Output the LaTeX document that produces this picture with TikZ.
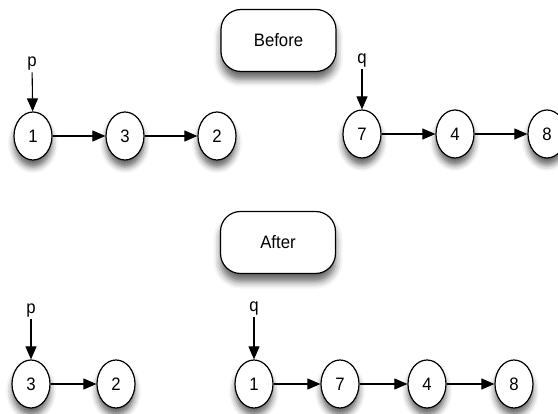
\documentclass[tikz,border=0pt]{standalone}
\usepackage{fontspec}
\setmainfont[FakeStretch=0.93]{Liberation Sans}
\usetikzlibrary{arrows.meta,shapes.geometric,shadows.blur}
\tikzset{
  cell/.style={ellipse,draw,line width=1.2pt,fill=white,minimum width=38pt,minimum height=48pt,inner sep=0pt,
    blur shadow={shadow xshift=0pt,shadow yshift=-7pt,shadow blur radius=6pt,shadow opacity=60}},
  titlebox/.style={draw,line width=1.2pt,fill=white,rounded corners=20pt,minimum width=115pt,minimum height=62pt,inner sep=0pt,
    blur shadow={shadow xshift=0pt,shadow yshift=-8pt,shadow blur radius=7pt,shadow opacity=60}},
  ptr/.style={inner sep=1.5pt},
  link/.style={line width=1.1pt,-{Triangle[length=13pt,width=11pt]}},
}
\begin{document}
\begin{tikzpicture}[x=1pt,y=-1pt,font=\fontsize{18}{20}\selectfont]
\useasboundingbox (0,0) rectangle (558,414);
% Before
\node[titlebox] (before) at (278.5,40.5) {Before};
\node[cell] (b1) at (33,136) {1};
\node[cell] (b3) at (125,136) {3};
\node[cell] (b2) at (217,136) {2};
\node[ptr] (bp) at (32,64) {p};
\draw[link] (bp) -- (b1);
\draw[link] (b1) -- (b3);
\draw[link] (b3) -- (b2);
\node[cell] (b7) at (362,134) {7};
\node[cell] (b4) at (455,134) {4};
\node[cell] (b8) at (547,134) {8};
\node[ptr] (bq) at (362,61) {q};
\draw[link] (bq) -- (b7);
\draw[link] (b7) -- (b4);
\draw[link] (b4) -- (b8);
% After
\node[titlebox] (after) at (278,242.5) {After};
\node[cell] (a3) at (31,384) {3};
\node[cell] (a2) at (116,384) {2};
\node[ptr] (ap) at (31,311) {p};
\draw[link] (ap) -- (a3);
\draw[link] (a3) -- (a2);
\node[cell] (a1) at (254,384) {1};
\node[cell] (a7) at (340,384) {7};
\node[cell] (a4) at (427,384) {4};
\node[cell] (a8) at (514,384) {8};
\node[ptr] (aq) at (254,309) {q};
\draw[link] (aq) -- (a1);
\draw[link] (a1) -- (a7);
\draw[link] (a7) -- (a4);
\draw[link] (a4) -- (a8);
\end{tikzpicture}
\end{document}
